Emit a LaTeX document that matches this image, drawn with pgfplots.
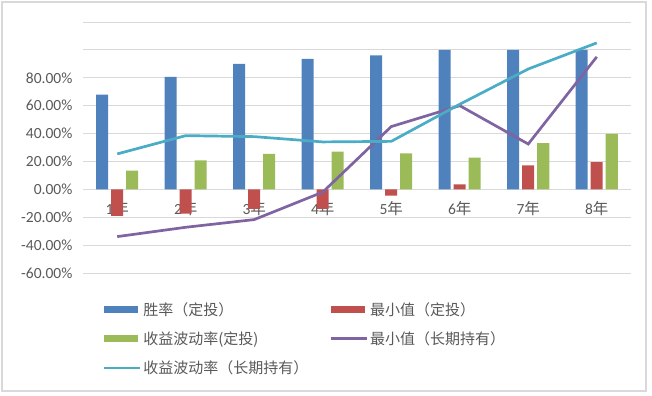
\documentclass[border=0pt]{standalone}
\usepackage{fontspec}
\setmainfont{Carlito}
\newfontfamily\cjk{Noto Sans CJK SC}
\usepackage{pgfplots}
\pgfplotsset{compat=1.18}
\definecolor{cblue}{HTML}{4F81BD}
\definecolor{cred}{HTML}{C0504D}
\definecolor{cgreen}{HTML}{9BBB59}
\definecolor{cpurple}{HTML}{8064A2}
\definecolor{ccyan}{HTML}{4BACC6}
\definecolor{ctext}{HTML}{595959}
\definecolor{cgrid}{HTML}{D9D9D9}
\begin{document}
\begin{tikzpicture}
\begin{axis}[
  at={(0,0)}, anchor=south west,
  scale only axis, width=548bp, height=251bp,
  xmin=-0.5, xmax=7.5, ymin=-60, ymax=120,
  axis x line=middle, axis y line=left,
  axis line style={draw=none},
  ytick={-60,-40,...,120},
  yticklabels={-60.00\%,-40.00\%,-20.00\%,0.00\%,20.00\%,40.00\%,60.00\%,80.00\%,,},
  xtick={0,...,7},
  xticklabels={1{\cjk 年},2{\cjk 年},3{\cjk 年},4{\cjk 年},5{\cjk 年},6{\cjk 年},7{\cjk 年},8{\cjk 年}},
  ymajorgrids, grid style={cgrid, line width=0.8bp},
  major tick style={draw=none},
  tick label style={font=\fontsize{15.5bp}{18bp}\selectfont, text=ctext},
  xticklabel style={yshift=-6bp},
  yticklabel style={xshift=-5bp},
  legend columns=2,
  legend style={at={(axis description cs:0.03,-0.1)}, anchor=north west, draw=none, fill=none,
    font=\cjk\fontsize{15bp}{18bp}\selectfont, text=ctext, row sep=11bp,
    /tikz/every even column/.append style={column sep=19bp}, cells={anchor=west}},
]
\addplot[ybar, bar width=12bp, bar shift=-15bp, fill=cblue, draw=none,
  legend image code/.code={\fill[cblue] (0bp,-3.5bp) rectangle (34bp,3.5bp);}]
  coordinates {(0,68) (1,80.6) (2,90) (3,93.5) (4,96) (5,100) (6,100) (7,100)};
\addlegendentry{胜率（定投）}
\addplot[ybar, bar width=12bp, bar shift=0bp, fill=cred, draw=none,
  legend image code/.code={\fill[cred] (0bp,-3.5bp) rectangle (34bp,3.5bp);}]
  coordinates {(0,-19) (1,-17.5) (2,-14) (3,-14) (4,-4.5) (5,3.5) (6,17.2) (7,19.6)};
\addlegendentry{最小值（定投）}
\addplot[ybar, bar width=12bp, bar shift=15bp, fill=cgreen, draw=none,
  legend image code/.code={\fill[cgreen] (0bp,-3.5bp) rectangle (34bp,3.5bp);}]
  coordinates {(0,13.4) (1,20.8) (2,25.4) (3,27) (4,25.8) (5,22.7) (6,33.2) (7,39.7)};
\addlegendentry{收益波动率(定投)}
\addplot[sharp plot, no marks, cpurple, line width=2.7bp,
  legend image code/.code={\draw[cpurple, line width=2.7bp] (0bp,0bp) -- (36bp,0bp);}]
  coordinates {(0,-33.9) (1,-27.2) (2,-21.7) (3,-2) (4,45) (5,60) (6,32.5) (7,95)};
\addlegendentry{最小值（长期持有）}
\addplot[sharp plot, no marks, ccyan, line width=2.7bp,
  legend image code/.code={\draw[ccyan, line width=2.7bp] (0bp,0bp) -- (36bp,0bp);}]
  coordinates {(0,25.4) (1,38.5) (2,37.8) (3,34) (4,34.4) (5,61) (6,86.3) (7,105)};
\addlegendentry{收益波动率（长期持有）}
\end{axis}
\draw[cgrid, line width=1.5bp] (-81bp,-118bp) rectangle (563bp,271bp);
\pgfresetboundingbox
\path[use as bounding box] (-83bp,-123bp) rectangle (569bp,273bp);
\end{tikzpicture}
\end{document}
